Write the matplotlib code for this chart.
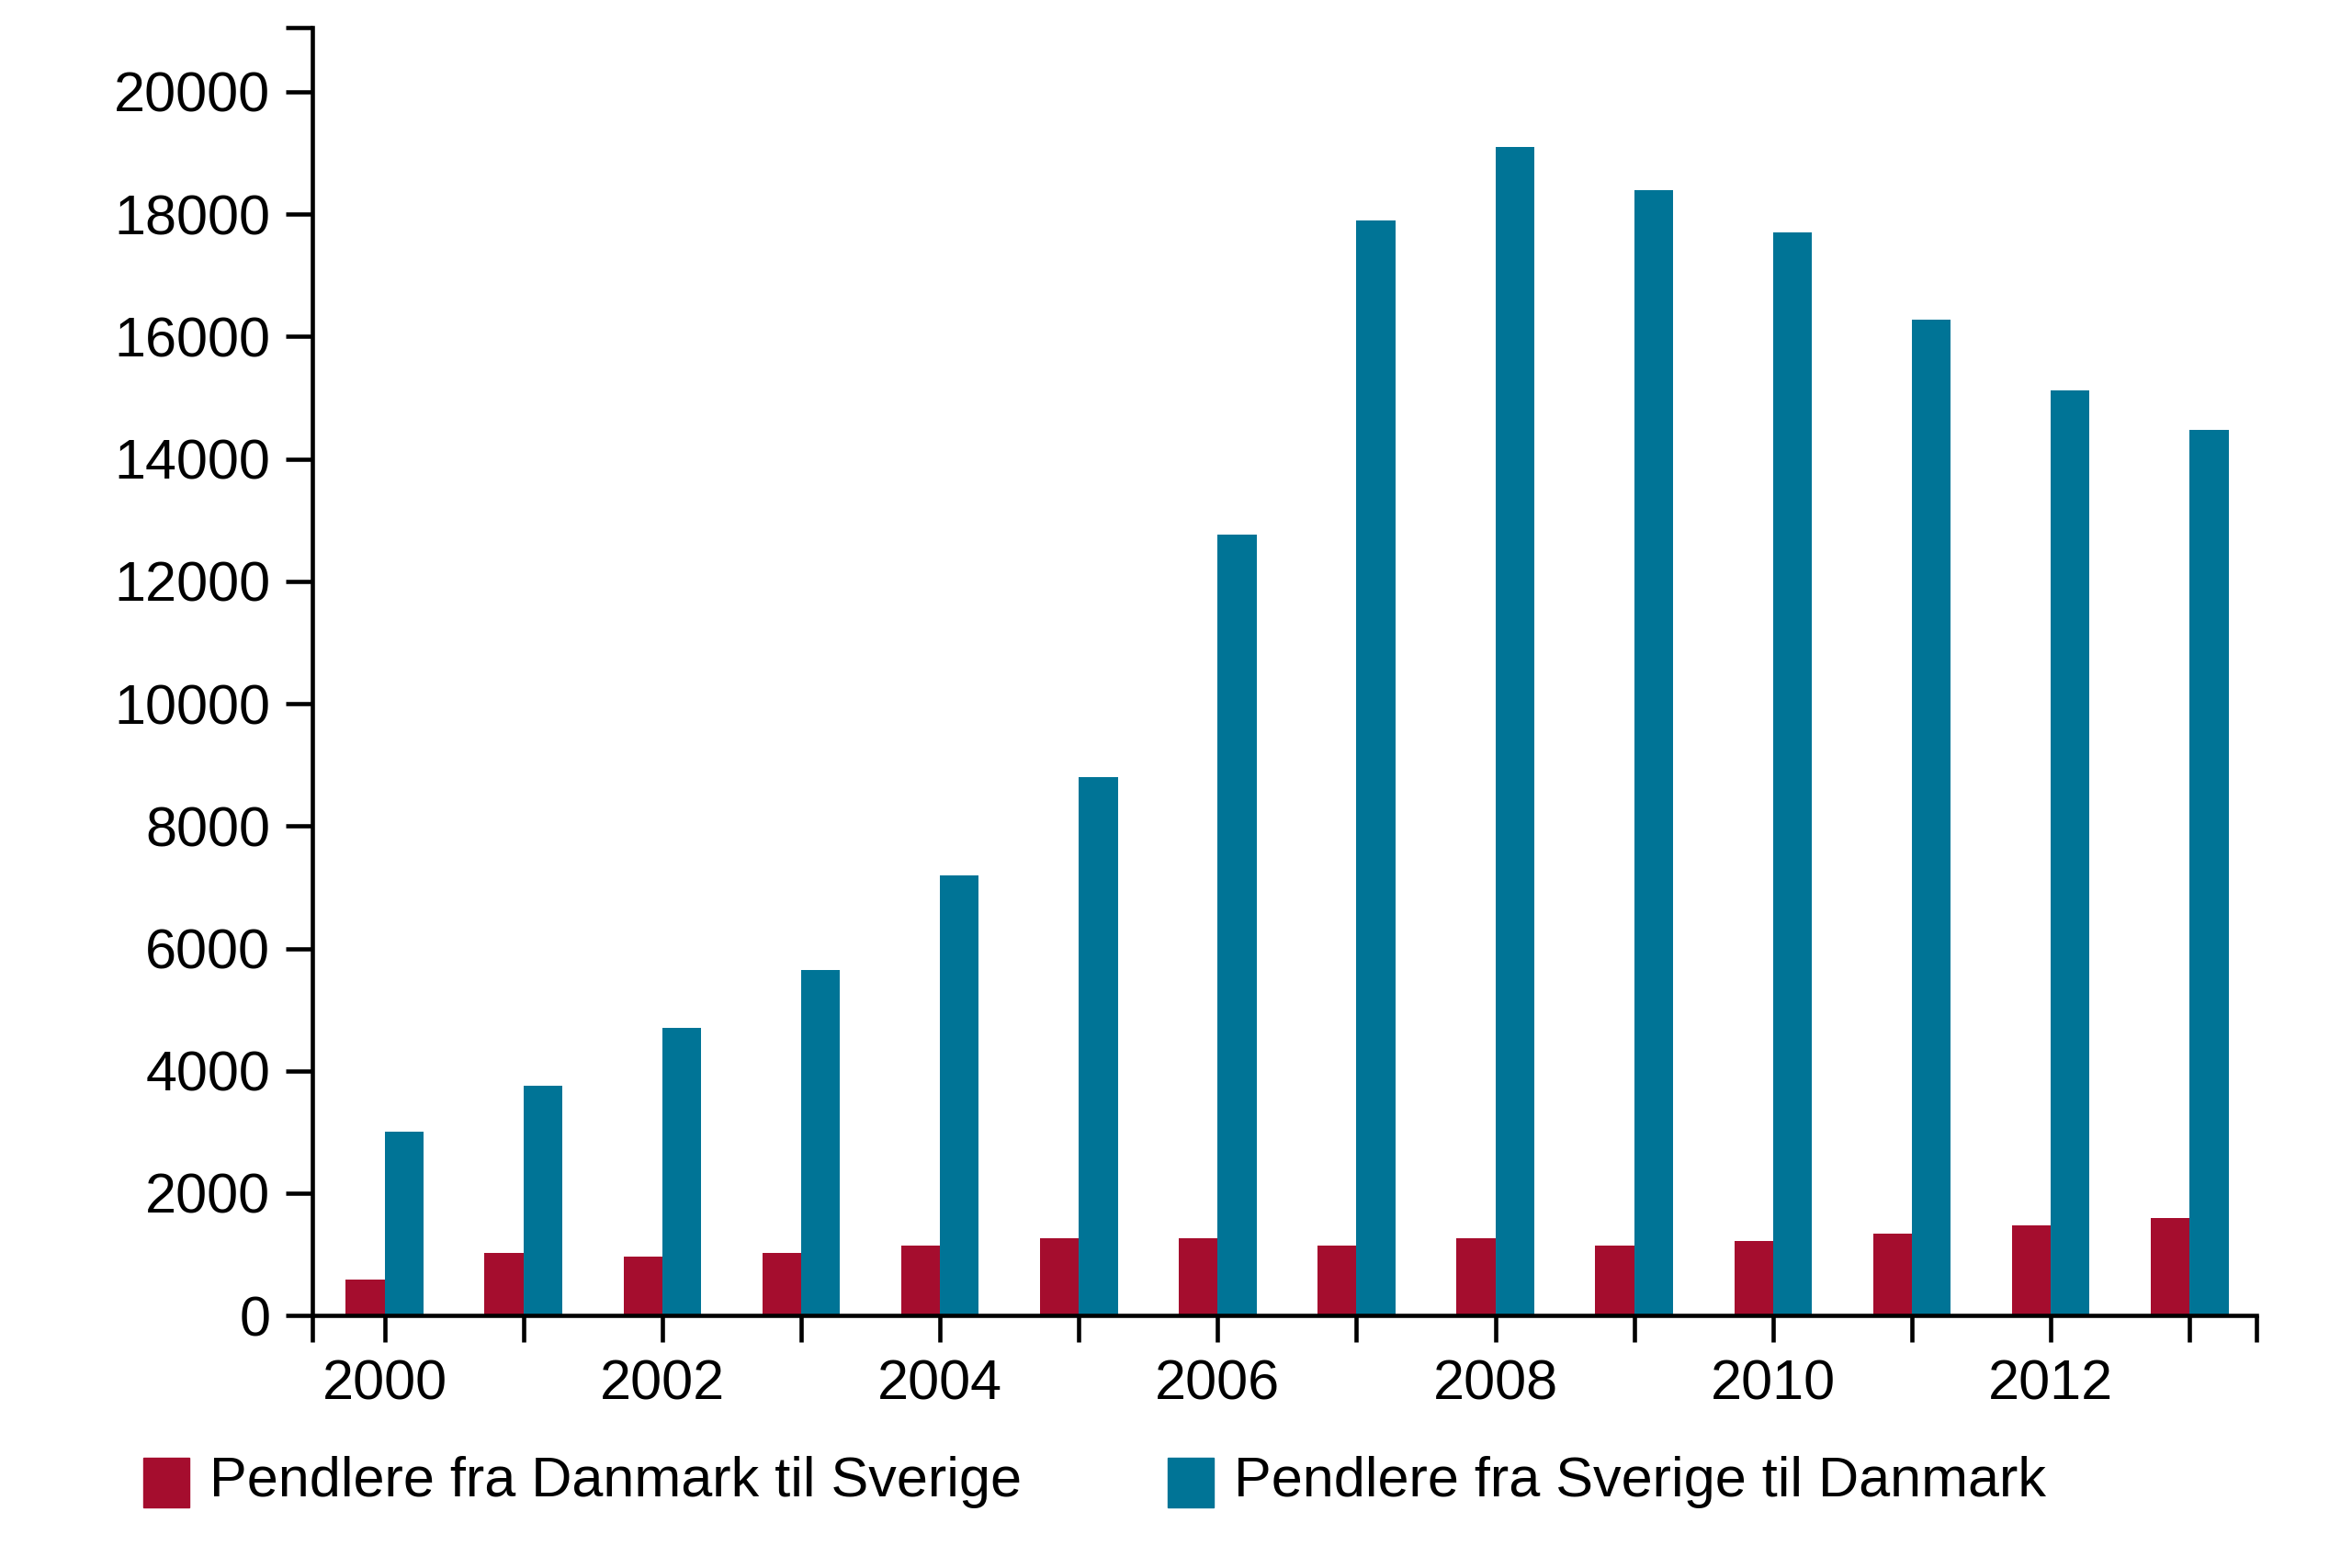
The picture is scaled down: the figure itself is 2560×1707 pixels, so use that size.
#!/usr/bin/env python3

import matplotlib
matplotlib.use('Agg')
import matplotlib.pyplot as plt
from matplotlib.patches import Rectangle

years = [2000, 2001, 2002, 2003, 2004, 2005, 2006, 2007, 2008, 2009, 2010, 2011, 2012, 2013]
dk_to_se = [590, 1030, 960, 1030, 1150, 1270, 1270, 1150, 1270, 1150, 1220, 1340, 1470, 1590]
se_to_dk = [3000, 3750, 4700, 5650, 7200, 8800, 12770, 17900, 19100, 18400, 17700, 16270, 15120, 14480]
labels = ["Pendlere fra Danmark til Sverige", "Pendlere fra Sverige til Danmark"]
red = '#a50d2e'
blue = '#007496'

plt.rcParams['font.family'] = ['Liberation Sans', 'DejaVu Sans']

fig = plt.figure(figsize=(25.6, 17.07), dpi=100)
ax = fig.add_axes([0.1328, 0.161, 0.8265, 0.8214])

w = 0.28
ax.bar([y - w / 2 for y in years], dk_to_se, width=w, color=red)
ax.bar([y + w / 2 for y in years], se_to_dk, width=w, color=blue)

ax.set_xlim(years[0] - 0.52, years[-1] + 0.48)
ax.set_ylim(0, 21050)

for s in ['top', 'right']:
    ax.spines[s].set_visible(False)
for s in ['left', 'bottom']:
    ax.spines[s].set_linewidth(3.3)

ax.set_yticks(list(range(0, 20001, 2000)))
ax.set_yticks([21050], minor=True)
ax.set_xticks(years)
ax.set_xticklabels([str(y) if y % 2 == 0 else '' for y in years])
ax.set_xticks([years[0] - 0.52, years[-1] + 0.48], minor=True)

ax.tick_params(axis='both', which='both', direction='out', length=21, width=3.3, labelsize=44, pad=10)
ax.tick_params(axis='x', pad=13)
ax.tick_params(axis='y', pad=12)

# legend drawn by hand
fig.add_artist(Rectangle((0.061, 0.0385), 0.0195, 0.032, transform=fig.transFigure, color=red))
fig.text(0.089, 0.0545, labels[0], fontsize=44, va='center', ha='left')
fig.add_artist(Rectangle((0.4965, 0.0385), 0.0195, 0.032, transform=fig.transFigure, color=blue))
fig.text(0.5245, 0.0545, labels[1], fontsize=44, va='center', ha='left')

plt.savefig('out.png', dpi=100)
